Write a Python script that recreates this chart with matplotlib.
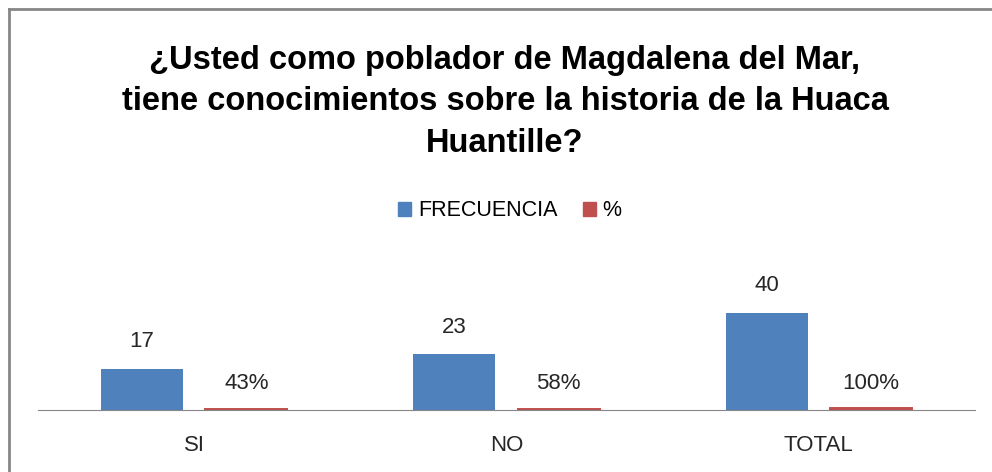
import matplotlib
matplotlib.use("Agg")
import matplotlib.pyplot as plt
import numpy as np
from matplotlib.lines import Line2D

categories = ["SI", "NO", "TOTAL"]
frecuencia = [17, 23, 40]
porcentaje = [0.43, 0.58, 1.00]
title = ("¿Usted como poblador de Magdalena del Mar,\n"
         "tiene conocimientos sobre la historia de la Huaca\n"
         "Huantille?")

BLUE = "#4f81bd"
RED = "#c0504d"
FONT = "Liberation Sans"

W, H = 992, 472
fig = plt.figure(figsize=(W / 100, H / 100), dpi=100)

# chart frame (top and left edges visible)
fig.add_artist(Line2D([9 / W, 9 / W], [0, 1 - 9 / H], color="#868686", lw=2))
fig.add_artist(Line2D([9 / W, 1], [1 - 9 / H, 1 - 9 / H], color="#868686", lw=2))

ax = fig.add_axes([38 / W, (H - 410) / H, (975 - 38) / W, 121.5 / H])
x = np.arange(len(categories))
w = 0.263
off = 0.167
ax.bar(x - off, frecuencia, width=w, color=BLUE)
ax.bar(x + off, porcentaje, width=w, color=RED, edgecolor=RED, linewidth=1.4)
ax.set_xlim(-0.5, 2.5)
ax.set_ylim(0, 50)

for xi, v in zip(x - off, frecuencia):
    ax.annotate(f"{v}", (xi, v), xytext=(0, 19.5), textcoords="offset points",
                ha="center", va="center", fontsize=16, family=FONT,
                color="#262626", annotation_clip=False)
for xi, v in zip(x + off, porcentaje):
    ax.annotate(f"{v:.0%}", (xi, 0), xytext=(0, 19), textcoords="offset points",
                ha="center", va="center", fontsize=16, family=FONT,
                color="#262626", annotation_clip=False)

for s in ["top", "right", "left"]:
    ax.spines[s].set_visible(False)
ax.spines["bottom"].set_color("#868686")
ax.set_yticks([])
ax.set_xticks(x)
ax.set_xticklabels(categories, fontsize=16, family=FONT, color="#262626")
ax.tick_params(axis="x", length=0, pad=18)

fig.text(505 / W, 1 - 102 / H, title, ha="center", va="center",
         fontsize=23.5, fontweight="bold", family=FONT, linespacing=1.45)

# legend
handles = [plt.Rectangle((0, 0), 1, 1, color=BLUE),
           plt.Rectangle((0, 0), 1, 1, color=RED)]
fig.legend(handles, ["FRECUENCIA", "%"], loc="center", ncol=2,
           bbox_to_anchor=(510 / W, 1 - 211 / H), frameon=False,
           prop={"family": FONT, "size": 15.5}, handlelength=0.6,
           handleheight=0.6, handletextpad=0.33, columnspacing=1.15)

fig.savefig("out.png", dpi=100)
